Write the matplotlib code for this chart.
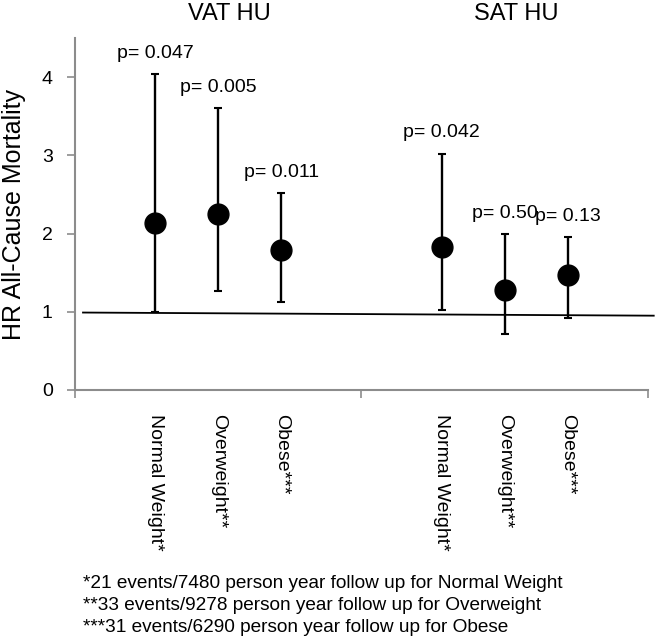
import matplotlib
matplotlib.use("Agg")
import matplotlib.pyplot as plt
from matplotlib.lines import Line2D
from matplotlib.transforms import blended_transform_factory

plt.rcParams['font.family'] = ['Liberation Sans', 'DejaVu Sans']

# ---- data ----
groups = ["VAT HU", "SAT HU"]
categories = ["Normal Weight*", "Overweight**", "Obese***"]
hr_vat = [2.13, 2.25, 1.79]
lo_vat = [1.00, 1.26, 1.13]
hi_vat = [4.04, 3.60, 2.52]
p_vat = ["p= 0.047", "p= 0.005", "p= 0.011"]
hr_sat = [1.83, 1.28, 1.47]
lo_sat = [1.02, 0.72, 0.92]
hi_sat = [3.02, 1.99, 1.95]
p_sat = ["p= 0.042", "p= 0.50", "p= 0.13"]
ref_x = [0.028, 2.02]
ref_y = [0.99, 0.95]
yticks = [0, 1, 2, 3, 4]
footnotes = [
    "*21 events/7480 person year follow up for Normal Weight",
    "**33 events/9278 person year follow up for Overweight",
    "***31 events/6290 person year follow up for Obese",
]

offsets = [-0.22, 0.0, 0.22]
grey = "#8c8c8c"

fig = plt.figure(figsize=(6.56, 6.37), dpi=100)
ax = fig.add_axes([0.1143, 0.3878, 0.8735, 0.5525])
title_tr = blended_transform_factory(ax.transData, fig.transFigure)

xs_all, labels_all = [], []
for gi, (hr, lo, hi, pl) in enumerate([(hr_vat, lo_vat, hi_vat, p_vat),
                                       (hr_sat, lo_sat, hi_sat, p_sat)]):
    center = gi + 0.5
    xs = [center + o for o in offsets]
    yerr = [[h - l for h, l in zip(hr, lo)], [u - h for h, u in zip(hr, hi)]]
    ax.errorbar(xs, hr, yerr=yerr, fmt='o', color='black', ms=15,
                elinewidth=1.7, capsize=3, capthick=1.5, zorder=3)
    for x, u, t in zip(xs, hi, pl):
        ax.annotate(t, xy=(x, u), xytext=(0, 15), textcoords='offset points',
                    ha='center', va='center', fontsize=14)
    ax.text(center + 0.04, 1 - 14 / 637, groups[gi], transform=title_tr,
            ha='center', va='center', fontsize=17)
    xs_all += xs
    labels_all += categories

# reference line
ax.add_line(Line2D(ref_x, ref_y, color='black', lw=1.3, clip_on=False, zorder=2))

ax.set_xlim(0, 2)
ax.set_ylim(0, 4.5)
ax.set_yticks(yticks)
ax.set_yticklabels([str(v) for v in yticks], fontsize=14)
ax.set_xticks([0, 1, 2])
ax.set_xticklabels([])
ax.set_xticks(xs_all, minor=True)
ax.set_xticklabels(labels_all, minor=True, rotation=-90, fontsize=14)
ax.tick_params(axis='x', which='minor', length=0, pad=17)
ax.tick_params(axis='x', which='major', length=6, color=grey, width=1.2)
ax.tick_params(axis='y', length=6, color=grey, width=1.2, pad=10)

for s in ['top', 'right']:
    ax.spines[s].set_visible(False)
for s in ['left', 'bottom']:
    ax.spines[s].set_color(grey)
    ax.spines[s].set_linewidth(1.5)

ax.set_ylabel("HR All-Cause Mortality", fontsize=18)
ax.yaxis.set_label_coords(-0.085, 0.5)

for i, t in enumerate(footnotes):
    fig.text(83 / 656, 1 - (583 + 22 * i) / 637, t, ha='left', va='center', fontsize=13.7)

fig.savefig("out.png", dpi=100)
